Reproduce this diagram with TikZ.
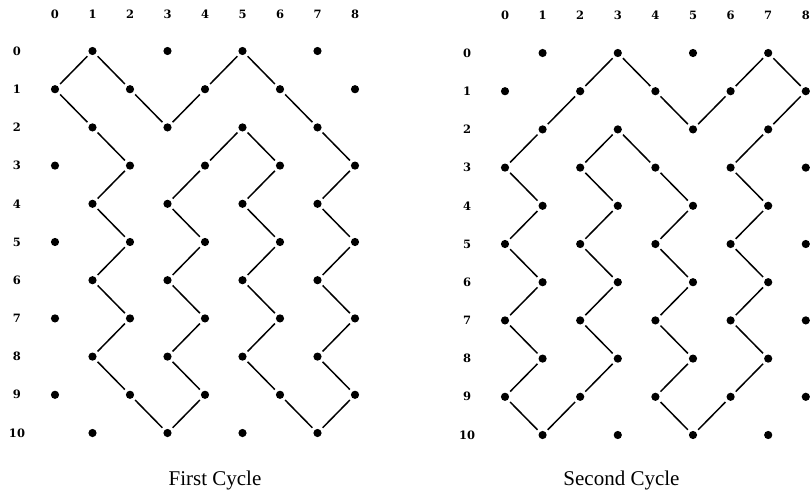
\documentclass[tikz,border=0pt]{standalone}
\usepackage{fontspec}
\newfontfamily\capfont{Liberation Serif}
\newfontfamily\labfont{DejaVu Serif}
\tikzset{
  dot/.style={circle, fill=black, draw=none, inner sep=0pt, minimum size=8.2pt, outer sep=3.2pt},
  edge/.style={line width=1.5pt, black},
  lab/.style={inner sep=0pt, font=\labfont\bfseries\fontsize{11.5}{14}\selectfont},
  caption/.style={inner sep=0pt, anchor=base, font=\capfont\fontsize{21}{24}\selectfont}
}
\begin{document}
\begin{tikzpicture}[x=1pt,y=-1pt]
\useasboundingbox (0,0) rectangle (812,490);
\foreach \c in {0,...,8} {
  \node[lab] (Lc\c) at ({55+37.5*\c},14) {\c};
  \node[lab] (Rc\c) at ({505+37.6*\c},15) {\c};
}
\foreach \r in {0,...,10} {
  \node[lab] (Lr\r) at (17,{51+38.2*\r}) {\r};
  \node[lab] (Rr\r) at (467,{53+38.2*\r}) {\r};
  \foreach \c in {0,...,8} {
    \pgfmathtruncatemacro{\odd}{mod(\r+\c,2)}
    \ifnum\odd=1
      \node[dot] (L-\r-\c) at ({55+37.5*\c},{51+38.2*\r}) {};
      \node[dot] (R-\r-\c) at ({505+37.6*\c},{53+38.2*\r}) {};
    \fi
  }
}
% first cycle
\foreach \n [remember=\n as \last (initially 1-2)] in
  {0-1, 1-0, 2-1, 3-2, 4-1, 5-2, 6-1, 7-2, 8-1, 9-2, 10-3, 9-4, 8-3, 7-4, 6-3, 5-4, 4-3, 3-4, 2-5, 3-6, 4-5, 5-6, 6-5, 7-6, 8-5, 9-6, 10-7, 9-8, 8-7, 7-8, 6-7, 5-8, 4-7, 3-8, 2-7, 1-6, 0-5, 1-4, 2-3, 1-2}
  \draw[edge] (L-\last) -- (L-\n);
% second cycle
\foreach \n [remember=\n as \last (initially 2-1)] in
  {1-2, 0-3, 1-4, 2-5, 1-6, 0-7, 1-8, 2-7, 3-6, 4-7, 5-6, 6-7, 7-6, 8-7, 9-6, 10-5, 9-4, 8-5, 7-4, 6-5, 5-4, 4-5, 3-4, 2-3, 3-2, 4-3, 5-2, 6-3, 7-2, 8-3, 9-2, 10-1, 9-0, 8-1, 7-0, 6-1, 5-0, 4-1, 3-0, 2-1}
  \draw[edge] (R-\last) -- (R-\n);
\node[caption] (cap1) at (215,485) {First Cycle};
\node[caption] (cap2) at (621.5,485) {Second Cycle};
\end{tikzpicture}
\end{document}
